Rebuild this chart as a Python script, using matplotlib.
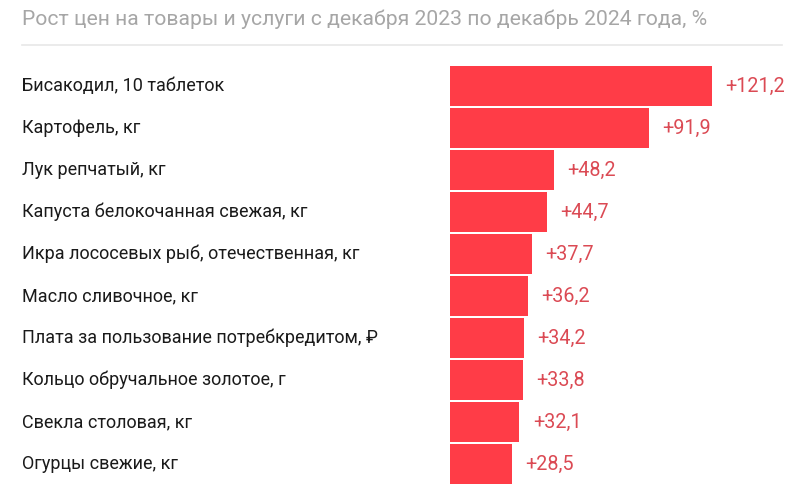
import matplotlib.pyplot as plt
import matplotlib.transforms as mtransforms

plt.rcParams['font.family'] = ['Roboto', 'DejaVu Sans']

title = 'Рост цен на товары и услуги с декабря 2023 по декабрь 2024 года, %'
items = [
    'Бисакодил, 10 таблеток',
    'Картофель, кг',
    'Лук репчатый, кг',
    'Капуста белокочанная свежая, кг',
    'Икра лососевых рыб, отечественная, кг',
    'Масло сливочное, кг',
    'Плата за пользование потребкредитом, ₽',
    'Кольцо обручальное золотое, г',
    'Свекла столовая, кг',
    'Огурцы свежие, кг',
]
growth = [121.2, 91.9, 48.2, 44.7, 37.7, 36.2, 34.2, 33.8, 32.1, 28.5]

W, H = 800, 492
fig = plt.figure(figsize=(W / 100, H / 100), dpi=100)

# axes placed in pixel terms: bars start at x=450, rows 42 px apart
row = 42.0
top = 86 - row / 2
bottom = 86 + row * (len(items) - 0.5)
ax = fig.add_axes([450 / W, 1 - bottom / H, 340 / W, (bottom - top) / H])
ax.set_xlim(0, 340 / 2.165)
ax.set_ylim(len(items) - 0.5, -0.5)
ax.axis('off')

ys = list(range(len(items)))
ax.barh(ys, growth, height=0.93, color='#ff3c47', linewidth=0)

trans = mtransforms.blended_transform_factory(fig.transFigure, ax.transData)
for y, v, name in zip(ys, growth, items):
    ax.annotate('+' + f'{v:.1f}'.replace('.', ','), (v, y), xytext=(9.5, 0),
                textcoords='offset points', va='center', ha='left',
                fontsize=14.2, color='#db4a54')
    ax.text(22 / W, y, name, transform=trans, va='center', ha='left',
            fontsize=13, color='#1a1a1a')

fig.text(22 / W, 1 - 19 / H, title, va='center', ha='left',
         fontsize=15.25, color='#a6a6a6')
fig.add_artist(plt.Line2D([22 / W, 782 / W], [1 - 45 / H, 1 - 45 / H],
                          color='#e8e8e8', linewidth=1.2))

fig.savefig('out.png', dpi=100, facecolor='white')
